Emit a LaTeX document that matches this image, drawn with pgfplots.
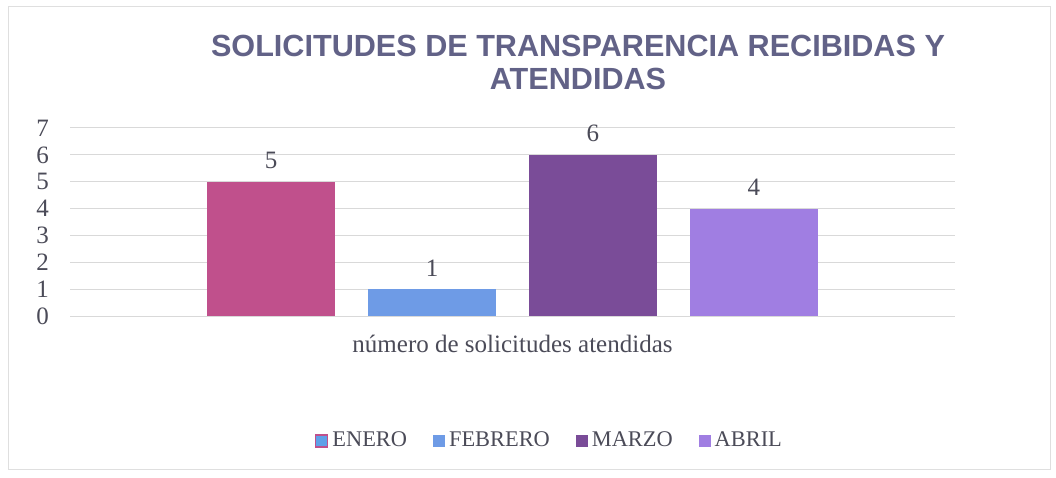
\documentclass[border=0pt]{standalone}
\usepackage{pgfplots}
\pgfplotsset{compat=1.18}
\usepackage{fontspec}
\setmainfont{Liberation Serif}
\newfontfamily\titlefont{Liberation Sans}
\definecolor{cEnero}{RGB}{192,80,140}
\definecolor{cFeb}{RGB}{110,155,230}
\definecolor{cMar}{RGB}{122,76,152}
\definecolor{cAbr}{RGB}{160,126,226}
\definecolor{cTitle}{RGB}{98,98,135}
\definecolor{cText}{RGB}{75,75,88}
\definecolor{cGrid}{RGB}{217,217,217}
\begin{document}
\begin{tikzpicture}[x=1bp,y=1bp]
\path[use as bounding box, fill=white] (0,0) rectangle (528,238.5);
\draw[gray!25, line width=0.5bp] (4,4) rectangle (525,235);
\node[font=\titlefont\bfseries\fontsize{15.3bp}{16.5bp}\selectfont, text=cTitle, align=center] at (289,207.5)
  {SOLICITUDES DE TRANSPARENCIA RECIBIDAS Y\\ATENDIDAS};
\begin{axis}[
  at={(35bp,80.5bp)}, anchor=south west,
  scale only axis, width=442.5bp, height=94bp,
  ybar, bar width=64bp, bar shift=0pt,
  xmin=-1.25, xmax=4.25, ymin=0, ymax=7,
  ytick={0,1,...,7},
  xtick={1.5}, xticklabels={número de solicitudes atendidas},
  xticklabel style={yshift=-6bp},
  major tick length=0pt,
  axis line style={draw=none},
  ymajorgrids, grid style={cGrid, line width=0.5bp},
  tick label style={font=\fontsize{12.5bp}{13bp}\selectfont, text=cText},
  yticklabel style={xshift=-7bp},
  nodes near coords,
  every node near coord/.append style={font=\fontsize{12.5bp}{13bp}\selectfont, text=cText, yshift=3bp},
  legend columns=4,
  legend style={at={(0.543,-0.665)}, anchor=center, draw=none, fill=none,
    font=\fontsize{11.2bp}{13bp}\selectfont, text=cText,
    /tikz/every even column/.append style={column sep=11bp},
    /tikz/every odd column/.append style={column sep=0bp}},
  legend image code/.code={\fill[#1] (0bp,-3bp) rectangle (6bp,3bp);},
  /pgf/number format/assume math mode=true,
]
\addplot[fill=cEnero, draw=none, legend image code/.code={\draw[fill={rgb,255:red,95;green,160;blue,232}, draw=cEnero, line width=0.6bp] (0bp,-3bp) rectangle (6bp,3bp);}] coordinates {(0,5)};
\addplot[fill=cFeb, draw=none] coordinates {(1,1)};
\addplot[fill=cMar, draw=none] coordinates {(2,6)};
\addplot[fill=cAbr, draw=none] coordinates {(3,4)};
\legend{ENERO, FEBRERO, MARZO, ABRIL}
\end{axis}
\end{tikzpicture}
\end{document}
